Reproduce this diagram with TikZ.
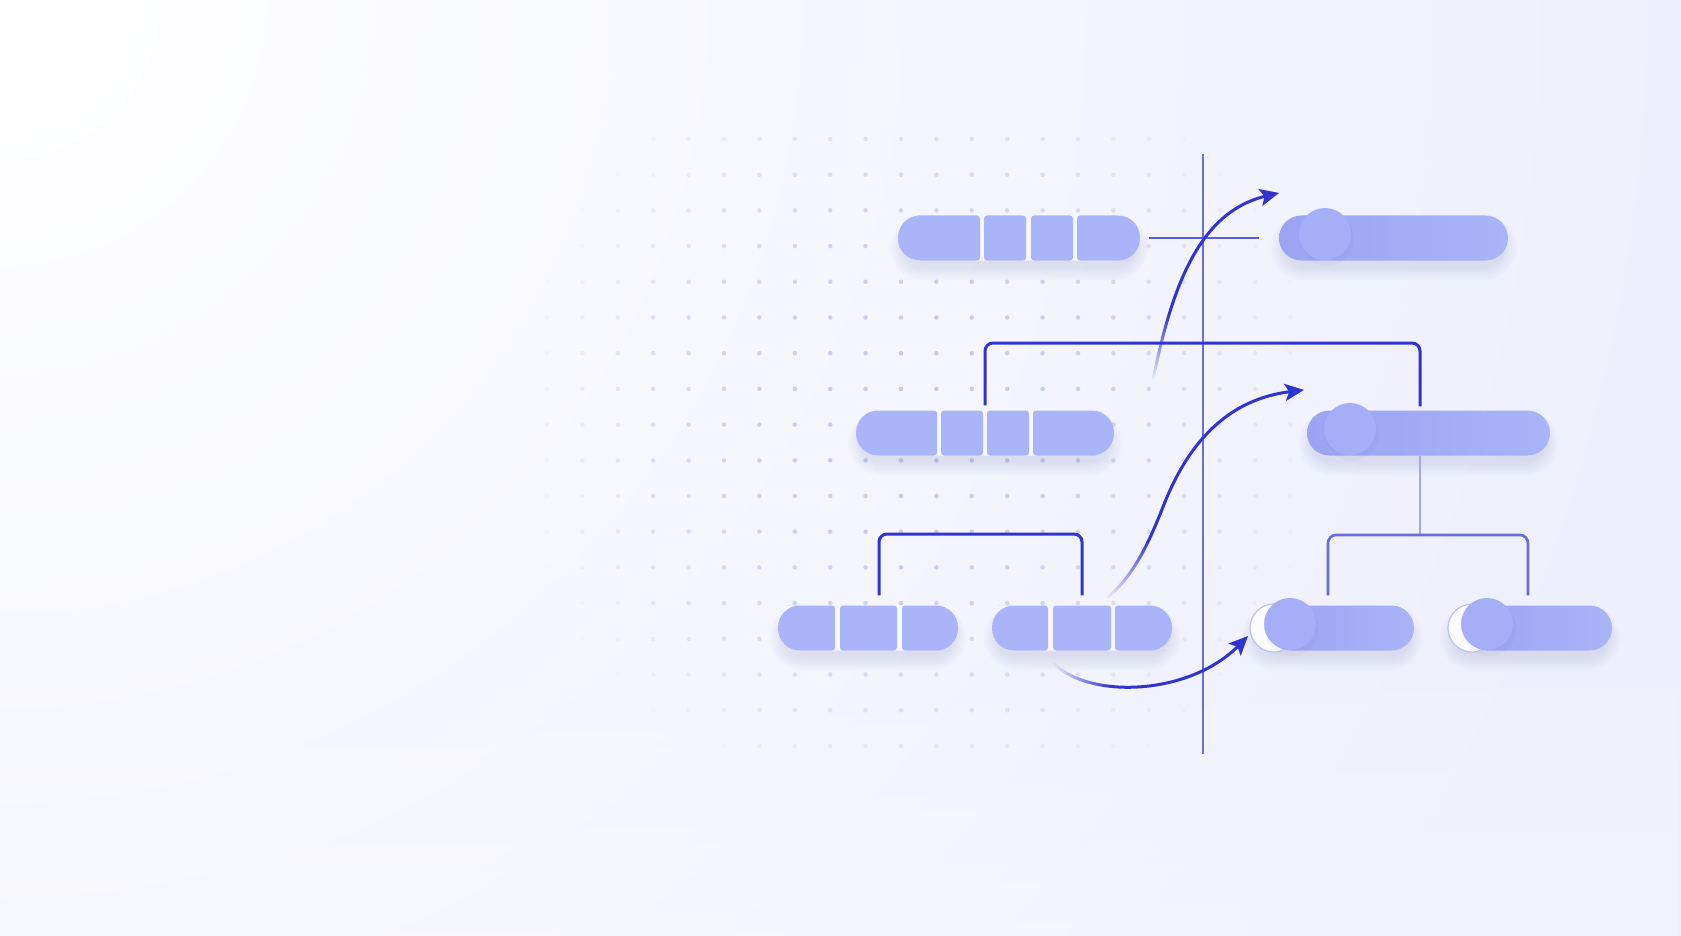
\documentclass[tikz,border=0pt]{standalone}
\usetikzlibrary{arrows.meta,shapes.misc,fadings}
\definecolor{bgc}{HTML}{EDEFFC}
\definecolor{barc}{HTML}{AAB4F8}
\definecolor{bard}{HTML}{9AA4F2}
\definecolor{knobc}{HTML}{A5AEF6}
\definecolor{ink}{HTML}{3033CF}
\definecolor{midl}{HTML}{585DD6}
\definecolor{vline}{HTML}{6A6FD9}
\definecolor{pale}{HTML}{A3A8E8}
\definecolor{dotc}{HTML}{B4B9E0}
\definecolor{shc}{RGB}{110,115,175}
\pgfdeclareverticalshading{shfadeS}{100bp}{color(0bp)=(black); color(25bp)=(black); color(43bp)=(white); color(100bp)=(white)}
\pgfdeclareverticalshading{shfadeT}{100bp}{color(0bp)=(black); color(25bp)=(black); color(39bp)=(white); color(100bp)=(white)}
\pgfdeclarehorizontalshading{shfadeW}{100bp}{color(0bp)=(black); color(25bp)=(black); color(40bp)=(white); color(100bp)=(white)}
\tikzfading[name=fadeS, shading=shfadeS]
\tikzfading[name=fadeT, shading=shfadeT]
\tikzfading[name=fadeW, shading=shfadeW]
\tikzfading[name=fadeUp, top color=transparent!100, bottom color=transparent!0]
\newcommand\barseg[6]{%
  \fill[barc] ({(#1+#2)/2},#3) [rounded corners=#6] -- (#2,#3) -- (#2,#4) -- ({(#1+#2)/2},#4) [rounded corners=#5] -- (#1,#4) -- (#1,#3) -- cycle;}
% soft shadow: x1 x2 yc
\newcommand\softshadow[3]{%
  \foreach \k in {0,...,6} {
    \fill[shc, opacity=0.022, rounded corners={(20+2*\k)*1pt}]
      ({#1-2*\k+4},{#3+10-20-2*\k}) rectangle ({#2+2*\k-4},{#3+10+20+2*\k});
  }}
\tikzset{
  pillbase/.style={rounded rectangle, inner sep=0pt, minimum height=45pt, fill=white!55!bgc},
  pillshade/.style={rounded rectangle, inner sep=0pt, minimum height=45pt, left color=bard, middle color=barc!94!bard, right color=barc},
  knob/.style={knobc},
  brk/.style={ink, line width=3pt, rounded corners=8pt},
  brkm/.style={midl!90!white, line width=2.6pt, rounded corners=8pt},
  arr/.style={ink, line width=3pt, -{Stealth[length=19pt,width=17pt,inset=4pt]}},
}
\begin{document}
\begin{tikzpicture}[x=1pt,y=-1pt]
\useasboundingbox (0,0) rectangle (1681,936);
% background
\fill[bgc] (0,0) rectangle (1681,936);
\begin{scope}
  \clip (0,0) rectangle (1681,936);
  \shade[inner color=white, outer color=bgc] (0,0) circle (1700);
  \fill[white, opacity=0.28, path fading=fadeUp] (0,620) rectangle (1681,936);
\end{scope}
% dot grid
\foreach \i in {0,...,28} {
  \foreach \j in {0,...,17} {
    \pgfmathsetmacro\xx{547+35.4*\i}
    \pgfmathsetmacro\yy{139+35.7*\j}
    \pgfmathsetmacro\dx{(\xx-920)/430}
    \pgfmathsetmacro\dy{(\yy-420)/430}
    \pgfmathsetmacro\op{0.8*max(0,0.9-\dx*\dx-\dy*\dy)}
    \fill[dotc, opacity=\op] (\xx,\yy) circle (2.3);
  }
}
% axis lines
\coordinate (vt) at (1203,154);
\coordinate (vb) at (1203,754);
\draw[vline, line width=2.4pt] (vt) -- (vb);
% shadows
\softshadow{898}{1140}{238}
\softshadow{856}{1114}{433}
\softshadow{778}{958}{628}
\softshadow{992}{1172}{628}
\softshadow{1279}{1508}{238}
\softshadow{1307}{1550}{433}
\softshadow{1250}{1414}{628}
\softshadow{1448}{1612}{628}
% bars (named nodes)
\node[pillbase, minimum width=242pt] (tl) at (1019,238) {};
\node[pillbase, minimum width=258pt] (ml) at (985,433) {};
\node[pillbase, minimum width=180pt] (bl) at (868,628) {};
\node[pillbase, minimum width=180pt] (bm) at (1082,628) {};
\node[pillshade, minimum width=229pt] (tr) at (1393.5,238) {};
\node[pillshade, minimum width=243pt] (mr) at (1428.5,433) {};
% horizontal line row 1
\coordinate (h2) at (1259,238);
\draw[midl, line width=2.6pt] ([xshift=9pt]tl.east) -- (h2);
% segments
\barseg{898}{980}{215.5}{260.5}{22pt}{3pt}
\barseg{984}{1026}{215.5}{260.5}{3pt}{3pt}
\barseg{1031}{1073}{215.5}{260.5}{3pt}{3pt}
\barseg{1077}{1140}{215.5}{260.5}{3pt}{22pt}
\barseg{856}{937}{410.5}{455.5}{22pt}{3pt}
\barseg{941}{983}{410.5}{455.5}{3pt}{3pt}
\barseg{987}{1029}{410.5}{455.5}{3pt}{3pt}
\barseg{1033}{1114}{410.5}{455.5}{3pt}{22pt}
\barseg{778}{835}{605.5}{650.5}{22pt}{3pt}
\barseg{840}{897}{605.5}{650.5}{3pt}{3pt}
\barseg{902}{958}{605.5}{650.5}{3pt}{22pt}
\barseg{992}{1048}{605.5}{650.5}{22pt}{3pt}
\barseg{1053}{1111}{605.5}{650.5}{3pt}{3pt}
\barseg{1115}{1172}{605.5}{650.5}{3pt}{22pt}
% knobs on right bars
\fill[shc, opacity=0.05] (1327,239) circle (27);
\fill[knob] (1325,234) circle (26);
\fill[shc, opacity=0.05] (1352,434) circle (27);
\fill[knob] (1350,429) circle (26);
% ghost rings bottom-right
\fill[white!80!bgc] (1274,628) circle (24);
\draw[pale!70!white, line width=1.2pt] (1274,628) circle (24);
\fill[white!80!bgc] (1472,628) circle (24);
\draw[pale!70!white, line width=1.2pt] (1472,628) circle (24);
\node[pillshade, minimum width=146pt] (bra) at (1341,628) {};
\node[pillshade, minimum width=147pt] (brb) at (1538.5,628) {};
\fill[shc, opacity=0.05] (1292,629) circle (27);
\fill[knob] (1290,624) circle (26);
\fill[shc, opacity=0.05] (1489,629) circle (27);
\fill[knob] (1487,624) circle (26);
% brackets
\coordinate (j1) at (985,343);
\coordinate (j2) at (1420,343);
\draw[brk] ([yshift=5pt]ml.north) -- (j1) -- (j2) -- ([xshift=-8.5pt,yshift=4pt]mr.north);
\coordinate (j3) at (879,534);
\coordinate (j4) at (1082,534);
\draw[brk] ([xshift=11pt,yshift=10pt]bl.north) -- (j3) -- (j4) -- ([yshift=10pt]bm.north);
\coordinate (j5) at (1420,535);
\draw[pale, line width=2.4pt] ([xshift=-8.5pt]mr.south) -- (j5);
\coordinate (j6) at (1328,535);
\coordinate (j7) at (1528,535);
\draw[brkm] ([xshift=-13pt,yshift=10pt]bra.north) -- (j6) -- (j7) -- ([xshift=-10.5pt,yshift=10pt]brb.north);
% arrows
\coordinate (a1s) at (1153,380);
\coordinate (a1e) at (1279,193);
\draw[arr, path fading=fadeS] (a1s) .. controls (1172,285) and (1200,212) .. (a1e);
\coordinate (a2s) at (1107,598);
\coordinate (a2m) at (1165,502);
\coordinate (a2e) at (1304,390);
\draw[arr, path fading=fadeT] (a2s) .. controls (1135,575) and (1150,540) .. (a2m) .. controls (1195,428) and (1240,398) .. (a2e);
\coordinate (a3s) at (1053,663);
\coordinate (a3e) at (1248,636);
\draw[arr, path fading=fadeW] (a3s) .. controls (1090,700) and (1190,695) .. (a3e);
\end{tikzpicture}
\end{document}
